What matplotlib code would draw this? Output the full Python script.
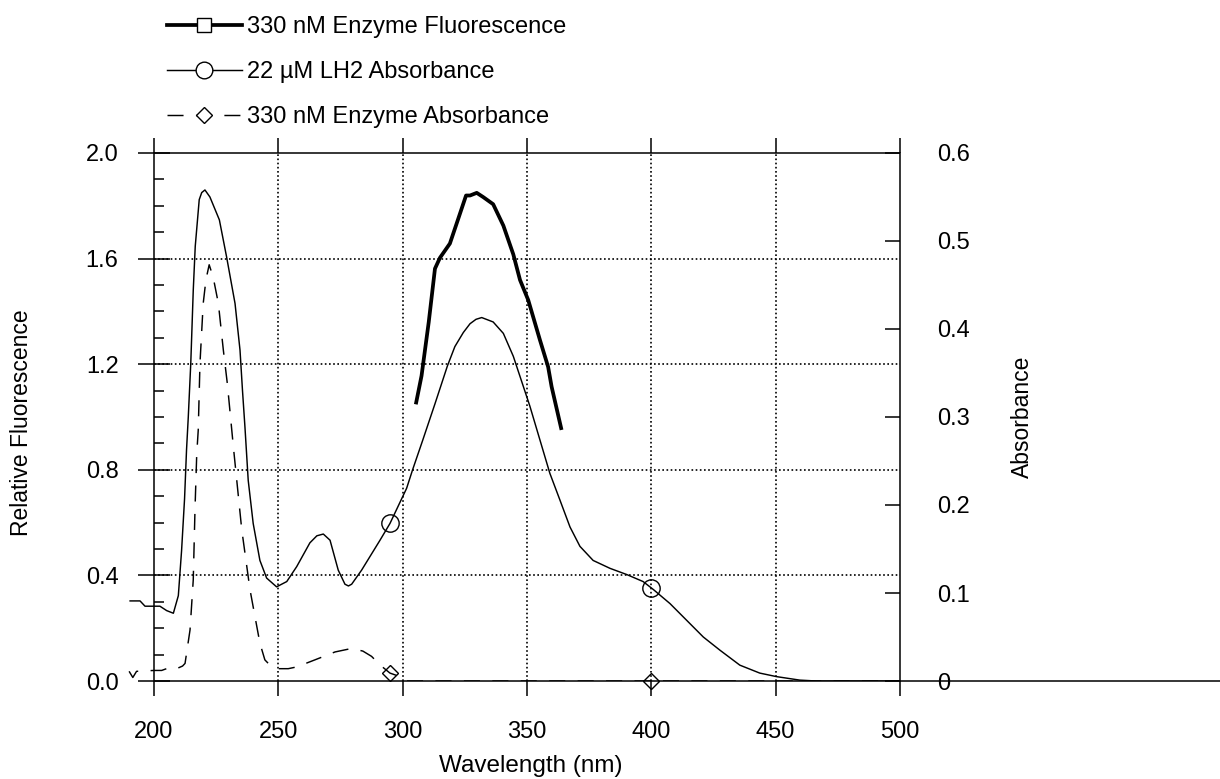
import matplotlib
matplotlib.use("Agg")
import matplotlib.pyplot as plt
import numpy as np
from matplotlib.lines import Line2D

plt.rcParams['font.family'] = ['Liberation Sans', 'DejaVu Sans']

# ---------------- data ----------------
fluor_nm = [305.3, 307.6, 310.5, 313.0, 315.0, 319.0, 322.4, 325.5, 327.1, 329.8,
            332.4, 336.4, 340.5, 344.5, 347.2, 350.5, 355.2, 358.5, 359.9, 363.9]
fluor_rel = [1.048, 1.156, 1.36, 1.562, 1.603, 1.657, 1.752, 1.839, 1.839, 1.849,
             1.833, 1.806, 1.725, 1.616, 1.519, 1.443, 1.292, 1.190, 1.115, 0.951]

lh2_nm = [190.4, 194.4, 196.4, 200.4, 202.4, 205.1, 207.8, 209.8, 211.1, 212.3,
          213.1, 213.8, 214.8, 215.8, 216.6, 218.2, 219.2, 220.5, 222.5, 226.3,
          229.2, 232.6, 234.6, 235.6, 236.6, 237.9, 239.9, 242.6, 245.3, 249.3,
          253.4, 257.4, 262.7, 265.5, 268.1, 270.8, 274.1, 276.8, 278.2, 279.5,
          283.5, 290.9, 294.9, 301.6, 304.0, 308.0, 313.0, 318.0, 321.0, 324.4,
          327.1, 329.5, 331.8, 336.4, 340.5, 344.5, 348.5, 351.2, 355.2, 359.2,
          363.2, 367.3, 371.3, 376.6, 383.4, 390.1, 396.7, 400.8, 407.5, 414.2,
          420.9, 427.6, 435.6, 443.6, 450.3, 459.7, 466.4, 500.0]
lh2_abs = [0.091, 0.091, 0.085, 0.085, 0.085, 0.080, 0.077, 0.097, 0.148, 0.207,
           0.263, 0.300, 0.361, 0.444, 0.494, 0.547, 0.555, 0.558, 0.550, 0.524,
           0.482, 0.429, 0.376, 0.330, 0.288, 0.228, 0.179, 0.137, 0.117, 0.107,
           0.113, 0.130, 0.157, 0.165, 0.167, 0.160, 0.126, 0.110, 0.108, 0.110,
           0.126, 0.160, 0.179, 0.219, 0.240, 0.273, 0.315, 0.358, 0.380, 0.396,
           0.406, 0.411, 0.413, 0.408, 0.395, 0.369, 0.335, 0.312, 0.274, 0.236,
           0.206, 0.175, 0.153, 0.137, 0.128, 0.121, 0.113, 0.104, 0.088, 0.069,
           0.050, 0.035, 0.018, 0.009, 0.005, 0.001, 0.0, 0.0]

enz_nm = [190.0, 191.5, 193.0, 200.0, 203.1, 206.0, 209.1, 211.5, 212.5, 214.5,
          215.8, 216.5, 217.2, 217.8, 218.5, 219.8, 220.9, 222.2, 223.8, 225.9,
          227.9, 229.5, 231.9, 235.3, 238.6, 242.6, 244.6, 247.0, 250.0, 254.0,
          257.4, 264.7, 272.8, 279.5, 284.0, 287.5, 291.0, 294.9, 298.9, 300.9, 500.0]
enz_abs = [0.011, 0.004, 0.011, 0.012, 0.012, 0.015, 0.014, 0.017, 0.020, 0.058,
           0.115, 0.195, 0.258, 0.285, 0.361, 0.429, 0.456, 0.473, 0.459, 0.429,
           0.376, 0.338, 0.267, 0.172, 0.104, 0.043, 0.024, 0.017, 0.014, 0.014,
           0.016, 0.024, 0.033, 0.037, 0.034, 0.028, 0.018, 0.009, 0.005, 0.0, 0.0]

marker_nm = [295, 400]

labels = ["330 nM Enzyme Fluorescence", "22 \u00b5M LH2 Absorbance", "330 nM Enzyme Absorbance"]
x_ticks = [200, 250, 300, 350, 400, 450, 500]
left_ticks = [0.0, 0.4, 0.8, 1.2, 1.6, 2.0]
right_ticks = [0, 0.1, 0.2, 0.3, 0.4, 0.5, 0.6]
right_ticklabels = ["0", "0.1", "0.2", "0.3", "0.4", "0.5", "0.6"]

# ---------------- figure ----------------
FS = 17
fig = plt.figure(figsize=(12.2, 7.79), dpi=100)
ax = fig.add_axes([0.1048, 0.1258, 0.6329, 0.6778])
ax.set_xlim(189.5, 500)
ax.set_ylim(0, 2.0)
ax2 = ax.twinx()
ax2.set_ylim(0, 0.6)

lw_ax = 1.1
for s in ['top', 'bottom', 'right']:
    ax.spines[s].set_visible(False)
for s in ['top', 'bottom', 'left']:
    ax2.spines[s].set_visible(False)
ax.spines['left'].set_position(('data', 200))
ax.spines['left'].set_linewidth(lw_ax)
ax2.spines['right'].set_linewidth(lw_ax)

# frame lines (top & bottom) and dotted grid
ax.hlines([0.0, 2.0], 200, 500, colors='black', lw=lw_ax, clip_on=False, zorder=3)
ax.hlines(left_ticks[1:-1], 200, 500, colors='black', lw=1.2, linestyles=(0, (1, 1.5)), zorder=1)
ax.vlines(x_ticks[1:-1], 0, 2.0, colors='black', lw=1.2, linestyles=(0, (1, 1.5)), zorder=1)
# baseline continues to the right edge of the page
base = Line2D([0.7377, 1.0], [0.1258, 0.1258], transform=fig.transFigure, color='black', lw=lw_ax)
fig.add_artist(base)

# x axis
ax.set_xticks(x_ticks)
ax.set_xticklabels([str(v) for v in x_ticks], fontsize=FS)
ax.tick_params(axis='x', which='major', top=True, bottom=True, direction='out',
               length=11, width=lw_ax, pad=18)
ax.set_xlabel("Wavelength (nm)", fontsize=17.5)
ax.xaxis.set_label_coords(0.522, -0.141)

# left y axis
ax.set_yticks(left_ticks)
ax.set_yticklabels([f"{v:.1f}" for v in left_ticks], fontsize=FS)
ax.set_yticks(np.arange(0.1, 2.0, 0.1), minor=True)
ax.tick_params(axis='y', which='major', direction='inout', length=23, width=lw_ax, pad=14)
ax.tick_params(axis='y', which='minor', direction='in', length=7, width=lw_ax)
ax.set_ylabel("Relative Fluorescence", fontsize=16.5)
ax.yaxis.set_label_coords(-0.123, 0.49)

# right y axis
ax2.set_yticks(right_ticks)
ax2.set_yticklabels(right_ticklabels, fontsize=FS)
ax2.tick_params(axis='y', which='major', direction='in', length=11, width=lw_ax, pad=27)
ax2.set_ylabel("Absorbance", fontsize=16.5, rotation=90)
ax2.yaxis.set_label_coords(1.144, 0.5)
for t in ax2.get_yticklabels():
    if t.get_text() == "0":
        t.set_bbox(dict(facecolor='white', edgecolor='none', pad=1))

# ---------------- data lines ----------------
ax.plot(fluor_nm, fluor_rel, color='black', lw=2.7, solid_joinstyle='round',
        solid_capstyle='butt', zorder=5)
ax2.plot(lh2_nm, lh2_abs, color='black', lw=1.05, zorder=5)
ax2.plot(enz_nm, enz_abs, color='black', lw=1.05, dashes=(11, 8.5), zorder=5)

lh2_m = np.interp(marker_nm, lh2_nm, lh2_abs)
enz_m = np.interp(marker_nm, enz_nm, enz_abs)
ax2.plot(marker_nm, lh2_m, ls='none', marker='o', ms=12.5, mfc='none', mec='black', mew=1.0, zorder=6)
ax2.plot(marker_nm, enz_m, ls='none', marker='D', ms=8, mfc='none', mec='black', mew=1.0,
         zorder=6, clip_on=False)

# ---------------- legend ----------------
h1 = Line2D([], [], color='black', lw=2.7, marker='s', ms=10, mfc='white', mec='black', mew=1.0)
h2 = Line2D([], [], color='black', lw=1.05, marker='o', ms=12, mfc='white', mec='black', mew=1.0)
h3 = Line2D([], [], color='black', lw=1.05, dashes=(11, 8.5), marker='D', ms=8, mfc='white',
            mec='black', mew=1.0)
fig.legend([h1, h2, h3], labels, loc='upper left', bbox_to_anchor=(0.1366, 0.9795),
           frameon=False, fontsize=FS, handlelength=3.18, handletextpad=0.21,
           labelspacing=0.97, borderpad=0, borderaxespad=0)

fig.savefig("out.png", dpi=100, facecolor='white')
